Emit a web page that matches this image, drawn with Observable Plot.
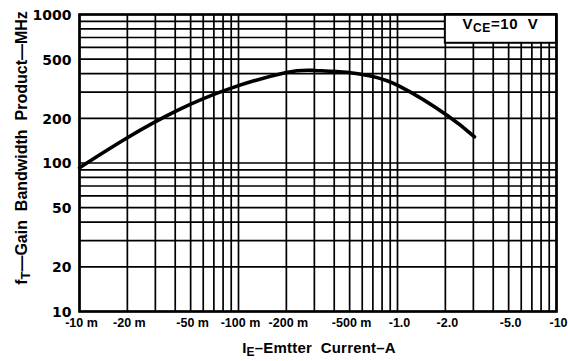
<!DOCTYPE html>
<html><head><meta charset="utf-8">
<script src="https://cdn.jsdelivr.net/npm/d3@7"></script>
<script src="https://cdn.jsdelivr.net/npm/@observablehq/plot@0.6"></script>
<style>
html,body{margin:0;padding:0;background:#fff;}
#chart svg{display:block;background:#fff;}
.ttl{font-family:"Liberation Sans",sans-serif;font-weight:bold;fill:#000;}
</style></head><body><div id="chart"></div>
<script>
// Curve: |I_E| in A, f_T in MHz
const curveCurrentA = [0.01, 0.02, 0.0413, 0.089, 0.2, 0.3, 0.48, 0.676, 1.04, 2.06, 3.05];
const curveFtMHz    = [93,   148,  226,    318,   407, 420, 408,  385,   327,  209,  150];

const gridCurrentA = [0.01,0.02,0.03,0.04,0.05,0.06,0.07,0.08,0.09,
                      0.1,0.2,0.3,0.4,0.5,0.6,0.7,0.8,0.9,
                      1,2,3,4,5,6,7,8,9,10];
const gridFtMHz = [10,20,30,40,50,60,70,80,90,100,200,300,400,500,600,700,800,900,1000];

const xTickValues = [0.01,0.02,0.05,0.1,0.2,0.5,1,2,5,10];
const xTickLabels = ["-10 m","-20 m","-50 m","-100 m","-200 m","-500 m","-1.0","-2.0","-5.0","-10"];
const yTickValues = [10,20,50,100,200,500,1000];
const yTickLabels = ["10","20","50","100","200","500","1000"];

const boxCurrentA = [2, 10];
const boxFtMHz = [640, 1000];

const curve = curveCurrentA.map((c, i) => ({I: c, f: curveFtMHz[i]}));
const xTicks = xTickValues.map((v, i) => ({v, label: xTickLabels[i]}));
const yTicks = yTickValues.map((v, i) => ({v, label: yTickLabels[i]}));

const chart = Plot.plot({
  width: 568, height: 361,
  marginLeft: 79, marginRight: 12, marginTop: 14, marginBottom: 50,
  x: {type: "log", domain: [0.01, 10], axis: null},
  y: {type: "log", domain: [10, 1000], axis: null},
  marks: [
    Plot.ruleX(gridCurrentA, {stroke: "#000", strokeWidth: 1.7}),
    Plot.ruleY(gridFtMHz, {stroke: "#000", strokeWidth: 1.7}),
    Plot.rect([{}], {x1: boxCurrentA[0], x2: boxCurrentA[1], y1: boxFtMHz[0], y2: boxFtMHz[1], fill: "#fff", stroke: "#000", strokeWidth: 2}),
    Plot.line(curve, {x: "I", y: "f", curve: "natural", stroke: "#000", strokeWidth: 3.6}),
    Plot.frame({stroke: "#000", strokeWidth: 2.6}),
    Plot.text(xTicks, {x: "v", text: "label", frameAnchor: "bottom", lineAnchor: "top", dy: 7, dx: 2,
      fill: "#000", fontFamily: "Liberation Sans Narrow, Liberation Sans, sans-serif", fontWeight: "bold", fontSize: 12.5}),
    Plot.text(yTicks, {y: "v", text: "label", frameAnchor: "left", textAnchor: "end", dx: -8, dy: 1,
      fill: "#000", fontFamily: "DejaVu Sans, sans-serif", fontWeight: "bold", fontSize: 14})
  ]
});
document.getElementById("chart").appendChild(chart);

const svg = d3.select(chart);
const sx = chart.scale("x"), sy = chart.scale("y");

// legend text V_CE = 10 V
const lx = sx.apply(Math.sqrt(boxCurrentA[0] * boxCurrentA[1]));
const ly = sy.apply(Math.sqrt(boxFtMHz[0] * boxFtMHz[1]));
const t = svg.append("text").attr("class", "ttl").attr("x", lx).attr("y", ly + 1)
  .attr("text-anchor", "middle").style("font-size", "15px").style("letter-spacing", "0.6px");
t.append("tspan").text("V");
t.append("tspan").text("CE").attr("dy", 3).style("font-size", "12px");
t.append("tspan").text("=10  V").attr("dy", -3);

// x title
const xt = svg.append("text").attr("class", "ttl").attr("x", 319).attr("y", 353)
  .attr("text-anchor", "middle").style("font-size", "15px").style("letter-spacing", "0.2px");
xt.append("tspan").text("I");
xt.append("tspan").text("E").attr("dy", 3).style("font-size", "12px");
xt.append("tspan").text("–Emtter  Current–A").attr("dy", -3);

// y title
const yt = svg.append("text").attr("class", "ttl").attr("transform", "translate(27,148) rotate(-90)")
  .attr("text-anchor", "middle").style("font-size", "16px").style("letter-spacing", "0px");
yt.append("tspan").text("f");
yt.append("tspan").text("T").attr("dy", 3).style("font-size", "13px");
yt.append("tspan").text("—Gain  Bandwidth  Product—MHz").attr("dy", -3);
</script>
</body></html>
